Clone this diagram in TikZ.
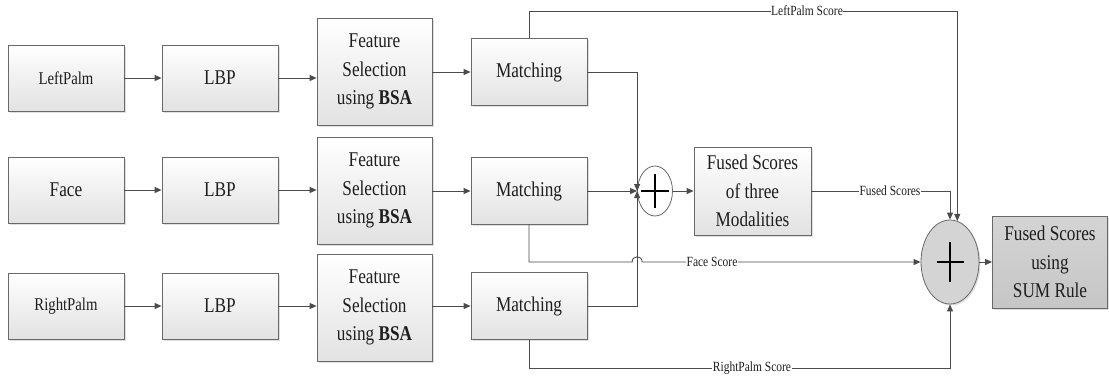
\documentclass[tikz,border=0pt]{standalone}
\usepackage{fontspec}
\setmainfont{Liberation Serif}
\usetikzlibrary{arrows.meta,shadows,shapes.geometric,calc}
\definecolor{ln}{RGB}{75,75,75}
\definecolor{bd}{RGB}{105,105,105}
\definecolor{boxbot}{RGB}{226,226,226}
\definecolor{txt}{RGB}{30,30,30}
\definecolor{sumtop}{RGB}{212,212,212}
\definecolor{sumbot}{RGB}{198,198,198}
\definecolor{bigc}{RGB}{212,212,212}
\newcommand\bigtxt{\fontsize{21}{28.5}\selectfont}
\newcommand\midtxt{\fontsize{18}{24}\selectfont}
\newcommand\smalltxt{\fontsize{14}{16}\selectfont}
\newcommand\sx[1]{\scalebox{0.82}[1]{#1}}
\begin{document}
\begin{tikzpicture}[x=1pt,y=-1pt,
 blk/.style={draw=bd, line width=0.8pt, top color=white, bottom color=boxbot, align=center, inner sep=0pt, text=txt, font=\bigtxt,
   drop shadow={shadow xshift=1.5pt, shadow yshift=-1.5pt, opacity=0.25, fill=gray}},
 inbox/.style={blk, minimum width=116pt, minimum height=66pt},
 fsbox/.style={blk, minimum width=115pt, minimum height=107pt},
 mbox/.style={blk, minimum width=116pt, minimum height=67pt},
 conn/.style={draw=ln, line width=0.9pt},
 arr/.style={conn, -{Triangle[length=7pt,width=6pt]}},
 lbl/.style={fill=white, inner xsep=0.5pt, inner ysep=1pt, font=\smalltxt, text=txt},
 plus/.style={draw=black, line width=1.6pt}
]
\useasboundingbox (0,0) rectangle (1109,376);

% input boxes
\node[inbox] (in1) at (66,78) {\midtxt\sx{LeftPalm}};
\node[inbox] (in2) at (66,190) {\sx{Face}};
\node[inbox] (in3) at (66,306) {\midtxt\sx{RightPalm}};
% LBP
\node[inbox] (lbp1) at (220,78) {\sx{LBP}};
\node[inbox] (lbp2) at (220,190) {\sx{LBP}};
\node[inbox] (lbp3) at (220,306) {\sx{LBP}};
% feature selection
\node[fsbox] (fs1) at (374.5,71.5) {\sx{Feature}\\\sx{Selection}\\\sx{using \textbf{BSA}}};
\node[fsbox] (fs2) at (374.5,190.5) {\sx{Feature}\\\sx{Selection}\\\sx{using \textbf{BSA}}};
\node[fsbox] (fs3) at (374.5,307.5) {\sx{Feature}\\\sx{Selection}\\\sx{using \textbf{BSA}}};
% matching
\node[mbox] (m1) at (529,72) {\sx{Matching}};
\node[mbox] (m2) at (529,191) {\sx{Matching}};
\node[mbox] (m3) at (529,306) {\sx{Matching}};
% small sum
\node[ellipse, draw=bd, line width=0.8pt, fill=white, minimum width=35pt, minimum height=50pt, inner sep=0pt] (sc) at (655,191) {};
% fused box
\node[blk, minimum width=117pt, minimum height=88pt] (fb) at (752.5,191) {\sx{Fused Scores}\\\sx{of three}\\\sx{Modalities}};
% big sum
\node[ellipse, draw=bd, line width=0.8pt, fill=bigc, minimum width=58pt, minimum height=84pt, inner sep=0pt,
   drop shadow={shadow xshift=1.5pt, shadow yshift=-1.5pt, opacity=0.25, fill=gray}] (bc) at (950,262) {};
% final box
\node[blk, top color=sumtop, bottom color=sumbot, minimum width=115pt, minimum height=92pt] (sum) at (1050,262) {\sx{Fused Scores}\\\sx{using}\\\sx{SUM Rule}};

% plus signs
\draw[plus] ($(sc.center)+(-14,0)$) -- ($(sc.center)+(14,0)$);
\draw[plus] ($(sc.center)+(0,-17)$) -- ($(sc.center)+(0,17)$);
\draw[plus] ($(bc.center)+(-13.5,0)$) -- ($(bc.center)+(13.5,0)$);
\draw[plus] ($(bc.center)+(0,-20)$) -- ($(bc.center)+(0,20)$);

% row connectors
\foreach \i in {1,2,3}{
  \draw[arr] (in\i) -- (lbp\i);
  \draw[arr] (lbp\i.east) -- (lbp\i.east -| fs\i.west);
  \draw[arr] (fs\i.east |- m\i.west) -- (m\i.west);
}
% to small sum
\draw[arr] (m1.east) -| (sc.west);
\draw[arr] (m2.east) -- (m2.east -| sc.west);
\draw[arr] (m3.east) -| (sc.west);
\draw[arr] (sc.east) -- (fb.west);

% score lines
\coordinate (lp) at (529,11);
\coordinate (rp) at (529,368);
\coordinate (fj1) at ($(sc.west |- bc.west)+(-5,0)$);
\coordinate (fj2) at ($(sc.west |- bc.west)+(5,0)$);
\draw[arr] (m1.north) -- (lp) -| (bc.80);
\draw[arr] (fb.east) -| (bc.north);
\draw[arr] (m2.south) |- (fj1) .. controls ($(fj1)+(0,-7)$) and ($(fj2)+(0,-7)$) .. (fj2) -- (bc.west);
\draw[arr] (m3.south) -- (rp) -| (bc.south);
\draw[arr] (bc.east) -- (sum.west);

% labels
\node[lbl] (lpl) at (807,11) {\sx{LeftPalm Score}};
\node[lbl] (fsl) at (890,191) {\sx{Fused Scores}};
\node[lbl] (fcl) at (712,262) {\sx{Face Score}};
\node[lbl] (rpl) at (752,368) {\sx{RightPalm Score}};
\end{tikzpicture}
\end{document}
